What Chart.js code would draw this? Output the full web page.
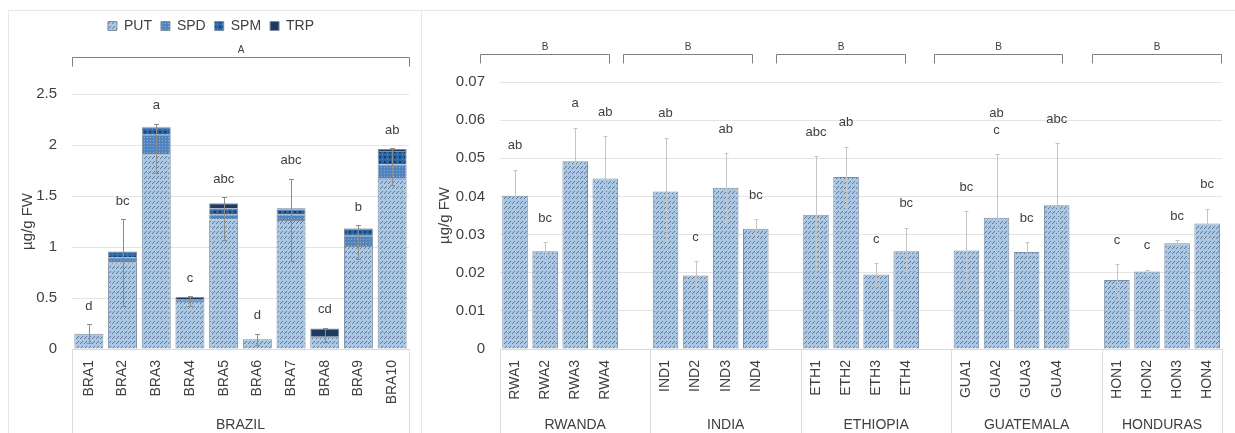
<!DOCTYPE html>
<html>
<head>
<meta charset="utf-8">
<script src="https://cdn.jsdelivr.net/npm/chart.js@4.4.1/dist/chart.umd.min.js"></script>
<style>
  html, body { margin: 0; padding: 0; background: #fff; }
  body { width: 1235px; height: 433px; overflow: hidden; position: relative; }
  .frame { position: absolute; top: 10px; height: 440px; box-sizing: border-box; border: 1px solid #e8e8e8; }
  #frameL { left: 8px; width: 414px; }
  #frameR { left: 421px; width: 830px; border-left: none; }
  canvas { position: absolute; top: 10px; }
  #cL { left: 8px; }
  #cR { left: 424px; }
</style>
</head>
<body>
<div class="frame" id="frameL"></div>
<div class="frame" id="frameR"></div>
<canvas id="cL" width="413" height="423"></canvas>
<canvas id="cR" width="811" height="423"></canvas>
<script>
// ---- Brazil accessions: stacked polyamines (µg/g FW) ----
const braCats = ['BRA1', 'BRA2', 'BRA3', 'BRA4', 'BRA5', 'BRA6', 'BRA7', 'BRA8', 'BRA9', 'BRA10'];
const braPUT = [0.15, 0.85, 1.91, 0.47, 1.27, 0.095, 1.265, 0.12, 1.01, 1.67];
const braSPD = [null, 0.05, 0.19, 0.01, 0.05, null, 0.055, null, 0.10, 0.14];
const braSPM = [null, 0.055, 0.075, 0.01, 0.06, null, 0.05, null, 0.07, 0.13];
const braTRP = [null, null, 0.005, 0.02, 0.05, null, 0.01, 0.08, 0.005, 0.02];
const braErrLow = [0.055, 0.42, 1.73, 0.42, 1.07, 0.04, 0.86, 0.065, 0.88, 1.61];
const braErrHigh = [0.245, 1.27, 2.21, 0.52, 1.49, 0.15, 1.67, 0.21, 1.215, 1.97];
const braLetters = ['d', 'bc', 'a', 'c', 'abc', 'd', 'abc', 'cd', 'b', 'ab'];
const braGroup = 'BRAZIL';
const braTicks = [0, 0.5, 1, 1.5, 2, 2.5];

// ---- Other origins: PUT (µg/g FW) with standard deviation ----
const countries = ['RWANDA', 'INDIA', 'ETHIOPIA', 'GUATEMALA', 'HONDURAS'];
const otherCats = ['RWA1', 'RWA2', 'RWA3', 'RWA4', 'IND1', 'IND2', 'IND3', 'IND4',
                   'ETH1', 'ETH2', 'ETH3', 'ETH4', 'GUA1', 'GUA2', 'GUA3', 'GUA4',
                   'HON1', 'HON2', 'HON3', 'HON4'];
const otherPUT = [0.0402, 0.0256, 0.0492, 0.0447, 0.0413, 0.0193, 0.0423, 0.0315,
                  0.0352, 0.0451, 0.0195, 0.0256, 0.0258, 0.0344, 0.0254, 0.0377,
                  0.0181, 0.0203, 0.0277, 0.0329];
const otherSD = [0.0068, 0.0024, 0.0088, 0.0111, 0.0141, 0.0037, 0.0090, 0.0025,
                 0.0153, 0.0079, 0.0030, 0.0062, 0.0104, 0.0166, 0.0026, 0.0162,
                 0.0041, 0.0005, 0.0008, 0.0039];
const otherLetters = ['ab', 'bc', 'a', 'ab', 'ab', 'c', 'ab', 'bc',
                      'abc', 'ab', 'c', 'bc', 'bc', 'ab\nc', 'bc', 'abc',
                      'c', 'c', 'bc', 'bc'];
const otherTicks = [0, 0.01, 0.02, 0.03, 0.04, 0.05, 0.06, 0.07];

// Each origin gets 4 samples followed by an empty slot (except the last one)
const slotLabels = [], slotPUT = [], slotLow = [], slotHigh = [], slotLetters = [], groupSpans = [];
countries.forEach((name, g) => {
  const start = slotLabels.length;
  for (let k = 0; k < 4; k++) {
    const i = g * 4 + k;
    slotLabels.push(otherCats[i]);
    slotPUT.push(otherPUT[i]);
    slotLow.push(otherPUT[i] - otherSD[i]);
    slotHigh.push(otherPUT[i] + otherSD[i]);
    slotLetters.push(otherLetters[i]);
  }
  if (g < countries.length - 1) {
    slotLabels.push(''); slotPUT.push(null); slotLow.push(null); slotHigh.push(null); slotLetters.push(null);
  }
  groupSpans.push({ label: name, from: start - 0.5, to: slotLabels.length - 0.5 });
});

// ---- styling ----
const FONT = '"Liberation Sans", Arial, sans-serif';
const TEXT = '#404040';
Chart.defaults.font.family = FONT;
Chart.defaults.color = TEXT;

function tile(w, h, draw) {
  const c = document.createElement('canvas');
  c.width = w; c.height = h;
  const g = c.getContext('2d');
  draw(g);
  return g.createPattern(c, 'repeat');
}
const fillPUT = tile(4, 5, g => {
  g.fillStyle = '#a9c7e3'; g.fillRect(0, 0, 4, 5);
  g.fillStyle = '#5f7898';
  g.fillRect(0, 3, 1, 1); g.fillRect(1, 2, 1, 1); g.fillRect(2, 1, 1, 1);
});
const fillSPD = tile(3, 3, g => {
  g.fillStyle = '#4f84bf'; g.fillRect(0, 0, 3, 3);
  g.fillStyle = '#86acd6'; g.fillRect(1, 1, 1, 1);
});
const fillSPM = tile(5, 5, g => {
  g.fillStyle = '#2c67a6'; g.fillRect(0, 0, 5, 5);
  g.fillStyle = '#163d68'; g.fillRect(1, 1, 2, 2);
  g.fillStyle = '#5d8fc6'; g.fillRect(4, 4, 1, 1);
});
const fillTRP = '#1f3a5e';
const EDGE = '#7f8fa3';

const fmt = v => String(Number(v.toFixed(3)));

// Error bars, significance letters, grouped category labels and brackets
function overlay(cfg) {
  return {
    id: 'overlay',
    afterDatasetsDraw(chart) {
      const { ctx } = chart;
      const x = chart.scales.x, y = chart.scales.y;
      ctx.save();
      ctx.strokeStyle = cfg.errColor;
      ctx.lineWidth = 1;
      cfg.high.forEach((hi, i) => {
        if (hi == null) return;
        const px = Math.round(x.getPixelForValue(i)) + 0.5;
        const yl = Math.round(y.getPixelForValue(cfg.low[i])) + 0.5;
        const yh = Math.round(y.getPixelForValue(hi)) + 0.5;
        ctx.beginPath();
        ctx.moveTo(px, yl); ctx.lineTo(px, yh);
        ctx.moveTo(px - cfg.cap, yh); ctx.lineTo(px + cfg.cap, yh);
        ctx.moveTo(px - cfg.cap, yl); ctx.lineTo(px + cfg.cap, yl);
        ctx.stroke();
      });
      ctx.fillStyle = TEXT;
      ctx.font = '13px ' + FONT;
      ctx.textAlign = 'center';
      ctx.textBaseline = 'middle';
      cfg.letters.forEach((txt, i) => {
        if (!txt) return;
        const px = x.getPixelForValue(i);
        const base = y.getPixelForValue(cfg.high[i]) - cfg.letterGap;
        const lines = txt.split('\n').reverse();
        lines.forEach((ln, k) => ctx.fillText(ln, px, base - k * 17));
      });
      ctx.restore();
    },
    afterDraw(chart) {
      const { ctx, chartArea, height } = chart;
      const x = chart.scales.x;
      const edge = v => x.getPixelForValue(v);
      ctx.save();
      // group dividers and names under the sample labels
      ctx.strokeStyle = '#dcdcdc';
      ctx.lineWidth = 1;
      cfg.groups.forEach(gp => {
        [gp.from, gp.to].forEach(v => {
          const px = Math.round(edge(v)) + 0.5;
          ctx.beginPath();
          ctx.moveTo(px, chartArea.bottom);
          ctx.lineTo(px, height);
          ctx.stroke();
        });
      });
      ctx.fillStyle = TEXT;
      ctx.font = '14px ' + FONT;
      ctx.textAlign = 'center';
      ctx.textBaseline = 'middle';
      cfg.groups.forEach(gp => ctx.fillText(gp.label, (edge(gp.from) + edge(gp.to)) / 2, cfg.groupY));
      // brackets
      ctx.strokeStyle = '#808080';
      ctx.font = '10px ' + FONT;
      cfg.brackets.forEach(b => {
        const x0 = Math.round(edge(b.from)) + 0.5, x1 = Math.round(edge(b.to)) + 0.5;
        const yb = cfg.bracketY + 0.5;
        ctx.beginPath();
        ctx.moveTo(x0, yb + 9); ctx.lineTo(x0, yb); ctx.lineTo(x1, yb); ctx.lineTo(x1, yb + 9);
        ctx.stroke();
        ctx.fillText(b.label, (x0 + x1) / 2, cfg.bracketY - 7);
      });
      ctx.restore();
    }
  };
}

// legend box reserves the space down to the top of the plot
function legendSpace(h) {
  return {
    id: 'legendSpace',
    beforeInit(chart) {
      const fit = chart.legend.fit;
      chart.legend.fit = function () { fit.call(this); this.height = h; };
    }
  };
}

const yTitle = { display: true, text: 'µg/g FW', font: { size: 15 }, color: TEXT, padding: { top: 6, bottom: 0 } };

// ---- Brazil panel ----
new Chart(document.getElementById('cL'), {
  type: 'bar',
  data: {
    labels: braCats,
    datasets: [
      { label: 'PUT', data: braPUT, backgroundColor: fillPUT, borderColor: EDGE, borderWidth: 1 },
      { label: 'SPD', data: braSPD, backgroundColor: fillSPD, borderColor: EDGE, borderWidth: 1 },
      { label: 'SPM', data: braSPM, backgroundColor: fillSPM, borderColor: EDGE, borderWidth: 1 },
      { label: 'TRP', data: braTRP, backgroundColor: fillTRP, borderColor: EDGE, borderWidth: 1 }
    ]
  },
  options: {
    responsive: false,
    animation: false,
    layout: { padding: { left: 5, right: 12, top: 0, bottom: 0 } },
    datasets: { bar: { categoryPercentage: 1, barPercentage: 0.86 } },
    plugins: {
      legend: { position: 'top', labels: { boxWidth: 9, boxHeight: 9, padding: 9, font: { size: 14 }, color: TEXT } },
      tooltip: { enabled: false }
    },
    scales: {
      x: {
        stacked: true,
        grid: { display: false, drawTicks: false },
        border: { display: true, color: '#d9d9d9' },
        ticks: { autoSkip: false, maxRotation: 90, minRotation: 90, padding: 11, font: { size: 14 }, color: TEXT },
        afterFit(s) { s.height = 84; }
      },
      y: {
        stacked: true, min: 0, max: 2.5,
        afterBuildTicks(s) { s.ticks = braTicks.map(v => ({ value: v })); },
        ticks: { padding: 15, font: { size: 15 }, color: TEXT, callback: fmt },
        grid: { color: '#e4e4e4', drawTicks: false },
        border: { display: false },
        title: yTitle,
        afterFit(s) { s.width = 59; }
      }
    }
  },
  plugins: [legendSpace(84), overlay({
    low: braErrLow, high: braErrHigh, letters: braLetters,
    errColor: '#8c8c8c', cap: 2.5, letterGap: 18,
    groups: [{ label: braGroup, from: -0.5, to: braCats.length - 0.5 }],
    groupY: 415,
    brackets: [{ label: 'A', from: -0.5, to: 9.5 }],
    bracketY: 47
  })]
});

// ---- other origins panel ----
new Chart(document.getElementById('cR'), {
  type: 'bar',
  data: {
    labels: slotLabels,
    datasets: [
      { label: 'PUT', data: slotPUT, backgroundColor: fillPUT, borderColor: EDGE, borderWidth: 1 }
    ]
  },
  options: {
    responsive: false,
    animation: false,
    layout: { padding: { left: 6, right: 1, top: 72, bottom: 0 } },
    datasets: { bar: { categoryPercentage: 1, barPercentage: 0.85 } },
    plugins: { legend: { display: false }, tooltip: { enabled: false } },
    scales: {
      x: {
        grid: { display: false, drawTicks: false },
        border: { display: true, color: '#d9d9d9' },
        ticks: { autoSkip: false, maxRotation: 90, minRotation: 90, padding: 11, font: { size: 14 }, color: TEXT },
        afterFit(s) { s.height = 84; }
      },
      y: {
        min: 0, max: 0.07,
        afterBuildTicks(s) { s.ticks = otherTicks.map(v => ({ value: v })); },
        ticks: { padding: 15, font: { size: 15 }, color: TEXT, callback: fmt },
        grid: { color: '#e4e4e4', drawTicks: false },
        border: { display: false },
        title: yTitle,
        afterFit(s) { s.width = 70; }
      }
    }
  },
  plugins: [overlay({
    low: slotLow, high: slotHigh, letters: slotLetters,
    errColor: '#c4c4c4', cap: 2, letterGap: 24,
    groups: groupSpans,
    groupY: 415,
    brackets: [
      { label: 'B', from: -1.15, to: 3.13 },
      { label: 'B', from: 3.58, to: 7.87 },
      { label: 'B', from: 8.68, to: 12.96 },
      { label: 'B', from: 13.91, to: 18.19 },
      { label: 'B', from: 19.17, to: 23.45 }
    ],
    bracketY: 44
  })]
});
</script>
</body>
</html>
